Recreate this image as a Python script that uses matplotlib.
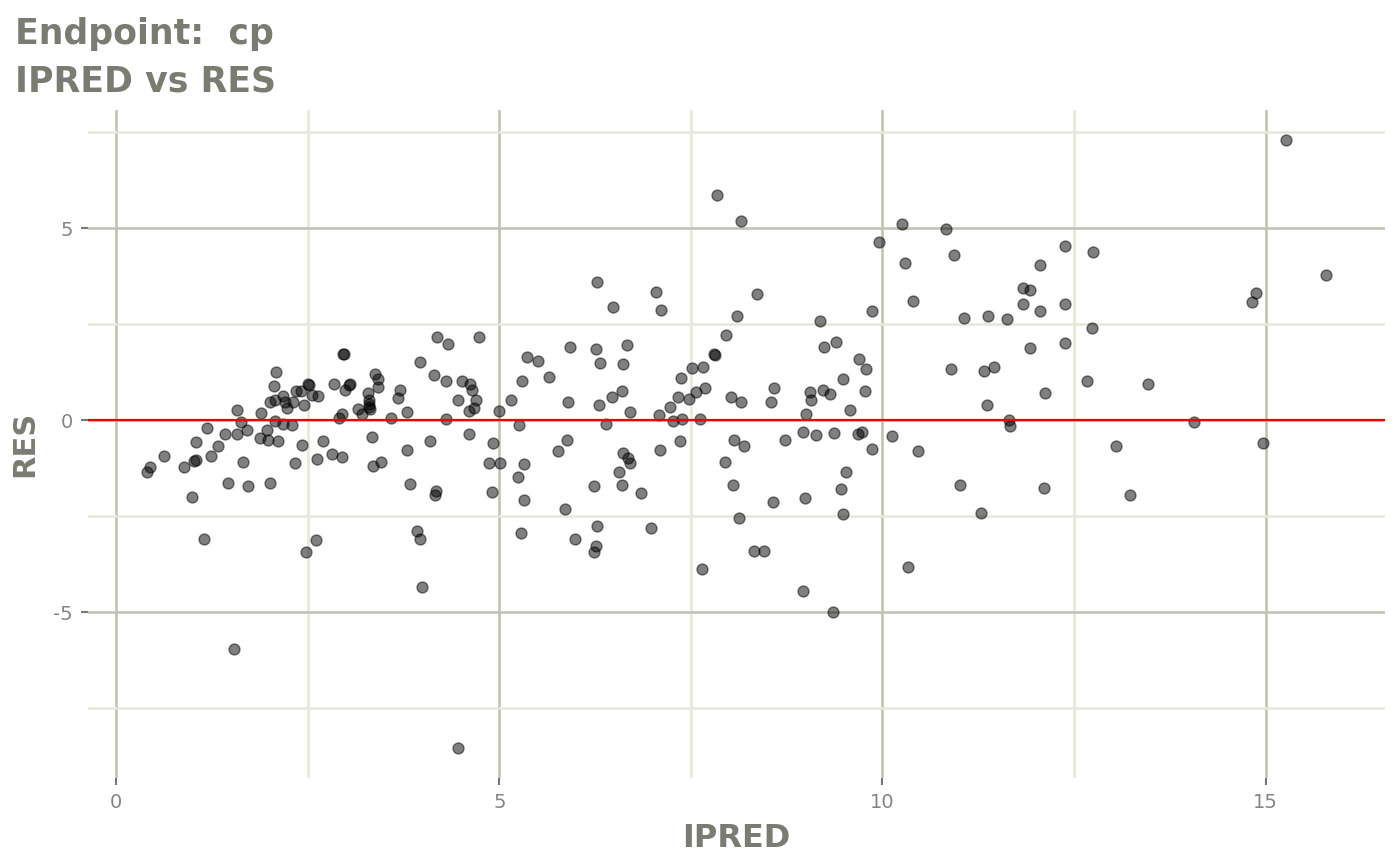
import numpy as np
import matplotlib
matplotlib.use("Agg")
import matplotlib.pyplot as plt
from matplotlib.ticker import MultipleLocator

# IPRED / RES pairs
ipred = [
    0.40, 0.44, 0.62, 0.89, 0.99, 1.02, 1.04, 1.04, 1.14, 1.18,
    1.24, 1.33, 1.42, 1.46, 1.57, 1.58, 1.63, 1.65, 1.71, 1.72,
    1.88, 1.89, 1.97, 1.98, 2.00, 2.01, 2.06, 2.07, 2.09, 2.11,
    2.07, 2.18, 2.20, 2.23, 2.17, 2.29, 2.31, 2.33, 2.35, 2.41,
    2.43, 2.45, 2.48, 2.50, 2.51, 2.55, 2.61, 2.63, 2.62, 2.70,
    2.81, 2.84, 2.94, 2.96, 2.97, 2.99, 2.91, 2.94, 1.53, 3.05,
    3.04, 3.16, 3.21, 3.29, 3.30, 3.30, 3.30, 3.31, 3.38, 3.41,
    3.42, 3.34, 3.35, 3.46, 3.59, 3.68, 3.70, 3.80, 3.79, 3.83,
    3.93, 3.96, 3.99, 3.97, 4.10, 4.15, 4.18, 4.17, 4.16, 4.30,
    4.30, 4.33, 4.46, 4.51, 4.62, 4.64, 4.70, 4.67, 4.60, 4.61,
    4.73, 4.92, 4.87, 5.01, 4.91, 5.00, 5.15, 5.25, 5.24, 5.30,
    5.36, 5.32, 5.32, 5.28, 4.46,
    6.28, 6.48, 7.04, 7.11, 8.36, 8.10, 7.96, 7.81, 7.80, 7.52,
    7.66, 5.50, 5.65, 5.92, 6.26, 6.31, 6.67, 6.61, 5.89, 6.30,
    6.47, 6.60, 6.71, 6.39, 7.08, 7.27, 7.23, 7.33, 7.37, 7.38,
    7.47, 7.57, 7.69, 7.62, 8.02, 8.16, 5.88, 5.77, 6.62, 6.68,
    6.71, 6.56, 7.09, 7.36, 6.23, 6.60, 6.85, 5.86, 6.28, 5.99,
    6.98, 6.26, 6.24, 8.06, 8.19, 7.95, 8.05, 8.13, 8.32, 7.65,
    7.84, 8.16, 8.59, 8.55, 9.19, 9.24, 9.40, 9.86, 9.96, 10.25,
    10.29, 10.40, 9.70, 9.78, 9.48, 9.77, 9.05, 9.07, 9.22, 9.32,
    9.00, 9.57, 8.73, 8.96, 9.13, 9.37, 9.68, 9.73, 9.87, 10.13,
    10.46, 9.52, 9.46, 8.99, 8.57, 9.49, 8.46, 10.33, 8.96, 9.35,
    10.83, 10.94, 12.38, 12.75, 12.06, 11.83, 11.92, 11.83, 12.06, 12.38,
    11.07, 11.38, 11.63, 12.73, 11.92, 12.38, 10.90, 11.33, 11.46, 12.67,
    12.12, 11.36, 11.65, 11.67, 13.05, 11.01, 12.11, 13.23, 11.28,
    15.27, 15.79, 14.87, 14.83, 13.46, 14.07, 14.97,
]
res = [
    -1.35, -1.22, -0.93, -1.22, -2.00, -1.05, -1.03, -0.57, -3.09, -0.21,
    -0.93, -0.67, -0.35, -1.62, 0.28, -0.35, -0.05, -1.09, -0.26, -1.71,
    -0.46, 0.19, -0.24, -0.52, -1.64, 0.48, 0.89, -0.01, 1.25, -0.54,
    0.52, 0.63, 0.48, 0.32, -0.10, -0.11, 0.49, -1.11, 0.76, 0.76,
    -0.63, 0.41, -3.43, 0.96, 0.91, 0.65, -3.11, 0.63, -1.01, -0.54,
    -0.87, 0.95, -0.95, 1.74, 1.72, 0.78, 0.07, 0.17, -5.94, 0.96,
    0.91, 0.30, 0.16, 0.71, 0.52, 0.42, 0.34, 0.29, 1.22, 1.08,
    0.87, -0.42, -1.19, -1.09, 0.07, 0.58, 0.80, 0.22, -0.76, -1.65,
    -2.88, -3.10, -4.34, 1.51, -0.54, 1.19, 2.18, -1.84, -1.93, 1.02,
    0.03, 2.00, 0.52, 1.03, 0.96, 0.80, 0.54, 0.33, 0.24, -0.36,
    2.17, -0.58, -1.10, -1.10, -1.87, 0.24, 0.54, -0.13, -1.48, 1.03,
    1.65, -1.13, -2.06, -2.92, -8.52,
    3.60, 2.95, 3.33, 2.87, 3.30, 2.73, 2.22, 1.71, 1.73, 1.36,
    1.40, 1.54, 1.14, 1.92, 1.86, 1.50, 1.95, 1.46, 0.49, 0.40,
    0.60, 0.76, 0.22, -0.10, 0.13, -0.02, 0.34, 0.60, 1.10, 0.04,
    0.55, 0.74, 0.83, 0.04, 0.60, 0.49, -0.50, -0.79, -0.85, -0.97,
    -1.11, -1.35, -0.77, -0.54, -1.71, -1.69, -1.90, -2.32, -2.74, -3.08,
    -2.80, -3.27, -3.42, -0.51, -0.66, -1.08, -1.68, -2.55, -3.39, -3.86,
    5.87, 5.19, 0.83, 0.49, 2.60, 1.92, 2.05, 2.86, 4.64, 5.10,
    4.09, 3.12, 1.59, 1.35, 1.08, 0.76, 0.74, 0.52, 0.80, 0.68,
    0.17, 0.26, -0.50, -0.31, -0.38, -0.32, -0.35, -0.31, -0.75, -0.41,
    -0.81, -1.35, -1.79, -2.01, -2.12, -2.45, -3.40, -3.82, -4.45, -4.98,
    4.97, 4.30, 4.54, 4.38, 4.04, 3.45, 3.39, 3.04, 2.84, 3.04,
    2.66, 2.73, 2.64, 2.40, 1.88, 2.01, 1.34, 1.28, 1.39, 1.02,
    0.70, 0.39, 0.00, -0.15, -0.66, -1.67, -1.75, -1.93, -2.40,
    7.29, 3.78, 3.31, 3.08, 0.95, -0.05, -0.59,
]

title_lines = ["Endpoint:  cp", "IPRED vs RES"]
x_label = "IPRED"
y_label = "RES"

text_col = "#7b7b72"
tick_col = "#858585"
major_grid = "#c0c0b3"
minor_grid = "#e6e6da"

fig = plt.figure(figsize=(14, 8.65), dpi=100)
ax = fig.add_axes([88 / 1400, 1 - 778 / 865, (1385 - 88) / 1400, (778 - 110) / 865])

ax.scatter(ipred, res, s=62, c="black", alpha=0.5, edgecolors="black",
           linewidths=1.0, zorder=3)
ax.axhline(0, color="#ee0000", lw=1.6, zorder=4)
ax.margins(0.05)

ax.xaxis.set_major_locator(MultipleLocator(5))
ax.xaxis.set_minor_locator(MultipleLocator(2.5))
ax.yaxis.set_major_locator(MultipleLocator(5))
ax.yaxis.set_minor_locator(MultipleLocator(2.5))
ax.grid(which="major", color=major_grid, lw=1.8, zorder=0)
ax.grid(which="minor", color=minor_grid, lw=1.8, zorder=0)
ax.set_axisbelow(True)

for s in ax.spines.values():
    s.set_visible(False)
ax.tick_params(which="major", length=5, width=1.5, color="#777777",
               labelcolor=tick_col, labelsize=14, pad=6)
ax.tick_params(which="minor", length=0)
ax.set_yticks([-5, 0, 5])
ax.set_yticklabels(["-5", "0", "5"])

ax.set_xlabel(x_label, fontsize=23, fontweight="bold", color=text_col, labelpad=8)
ax.set_ylabel(y_label, fontsize=22, fontweight="bold", color=text_col, labelpad=10)

fig.text(15 / 1400, 1 - 44 / 865, title_lines[0], fontsize=25, fontweight="bold",
         color=text_col, va="baseline", ha="left")
fig.text(15 / 1400, 1 - 91 / 865, title_lines[1], fontsize=25, fontweight="bold",
         color=text_col, va="baseline", ha="left")

fig.savefig("out.png", dpi=100, facecolor="white")
